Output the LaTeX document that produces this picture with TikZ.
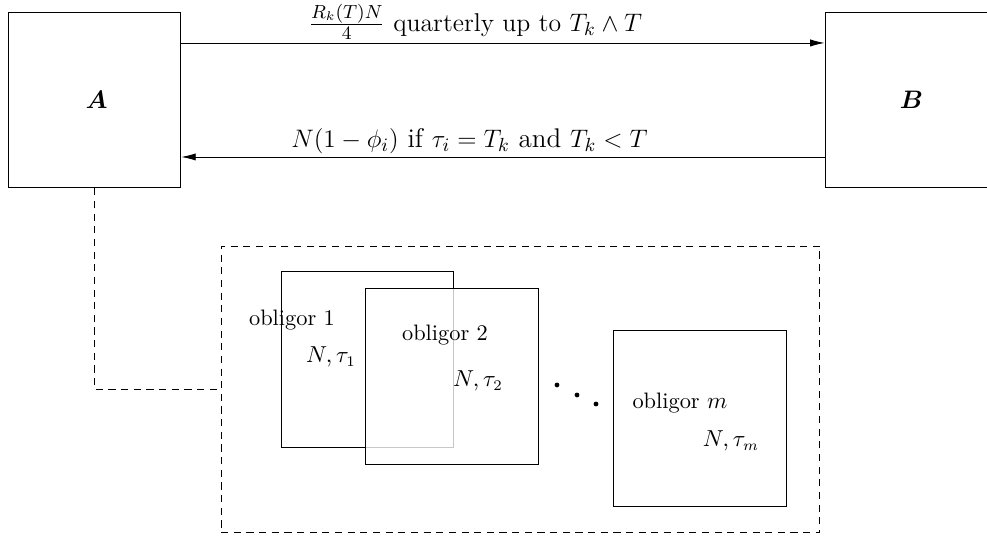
\documentclass[tikz,border=0pt]{standalone}
\usepackage{tikz}
\usepackage{amsmath}
\usepackage{amssymb}
\usepackage{bm}
\usepackage{xcolor}
\usetikzlibrary{arrows.meta}

\begin{document}
\begin{tikzpicture}[
  party/.style={draw,minimum width=2.88cm,minimum height=2.93cm,inner sep=0pt,font=\large},  obligor/.style={draw,fill=white,fill opacity=0.78,text opacity=1,minimum width=2.88cm,minimum height=2.94cm,inner sep=0pt},  pool/.style={draw,dash pattern=on 3.4pt off 2.6pt,minimum width=9.98cm,minimum height=4.78cm,inner sep=0pt},  txt/.style={font=\fontsize{10.6}{12.7}\selectfont},  flow/.style={font=\fontsize{12.2}{14.6}\selectfont,above,inner sep=1.3pt},  dot/.style={circle,fill,inner sep=0pt,minimum size=0.08cm},  >={Latex[length=0.24cm,width=0.12cm]}
]
  \useasboundingbox (0,0) rectangle (16.45,8.933);
  \node[party] (A) at (1.575,7.267) {\hspace{0.07cm}$\bm{A}$};
  \node[party] (B) at (15.19,7.267) {$\bm{B}$};
  \node[pool] (pool) at (8.675,2.442) {};
  \node[obligor] (o1) at (6.125,2.942) {};
  \node[obligor] (o2) at (7.533,2.658) {};
  \node[obligor] (om) at (11.667,1.958) {};
  \node[txt] (o1name) at (4.867,3.6) {obligor 1};
  \node[txt] (o1data) at (5.517,2.983) {$N,\tau_1$};
  \node[txt] (o2name) at (7.417,3.35) {obligor 2};
  \node[txt] (o2data) at (7.967,2.583) {$N,\tau_2$};
  \node[txt] (omname) at (11.333,2.217) {obligor $m$};
  \node[txt] (omdata) at (12.183,1.583) {$N,\tau_m$};
  \node[dot] (d1) at (9.283,2.517) {};
  \node[dot] (d2) at (9.617,2.35) {};
  \node[dot] (d3) at (9.933,2.2) {};
  \draw[->] ([yshift=0.95cm]A.east) -- node[flow,pos=0.457] {$\frac{R_k(T)N}{4}$ quarterly up to $T_k\wedge T$} ([yshift=0.95cm]B.west);
  \draw[->] ([yshift=-0.95cm]B.west) -- node[flow,pos=0.552,font=\fontsize{12.8}{15}\selectfont] {$N(1-\phi_i)$ if $\tau_i=T_k$ and $T_k<T$} ([yshift=-0.95cm]A.east);
  \draw[dash pattern=on 3.4pt off 2.6pt] (A.south) |- (pool.west);
\end{tikzpicture}
\end{document}
